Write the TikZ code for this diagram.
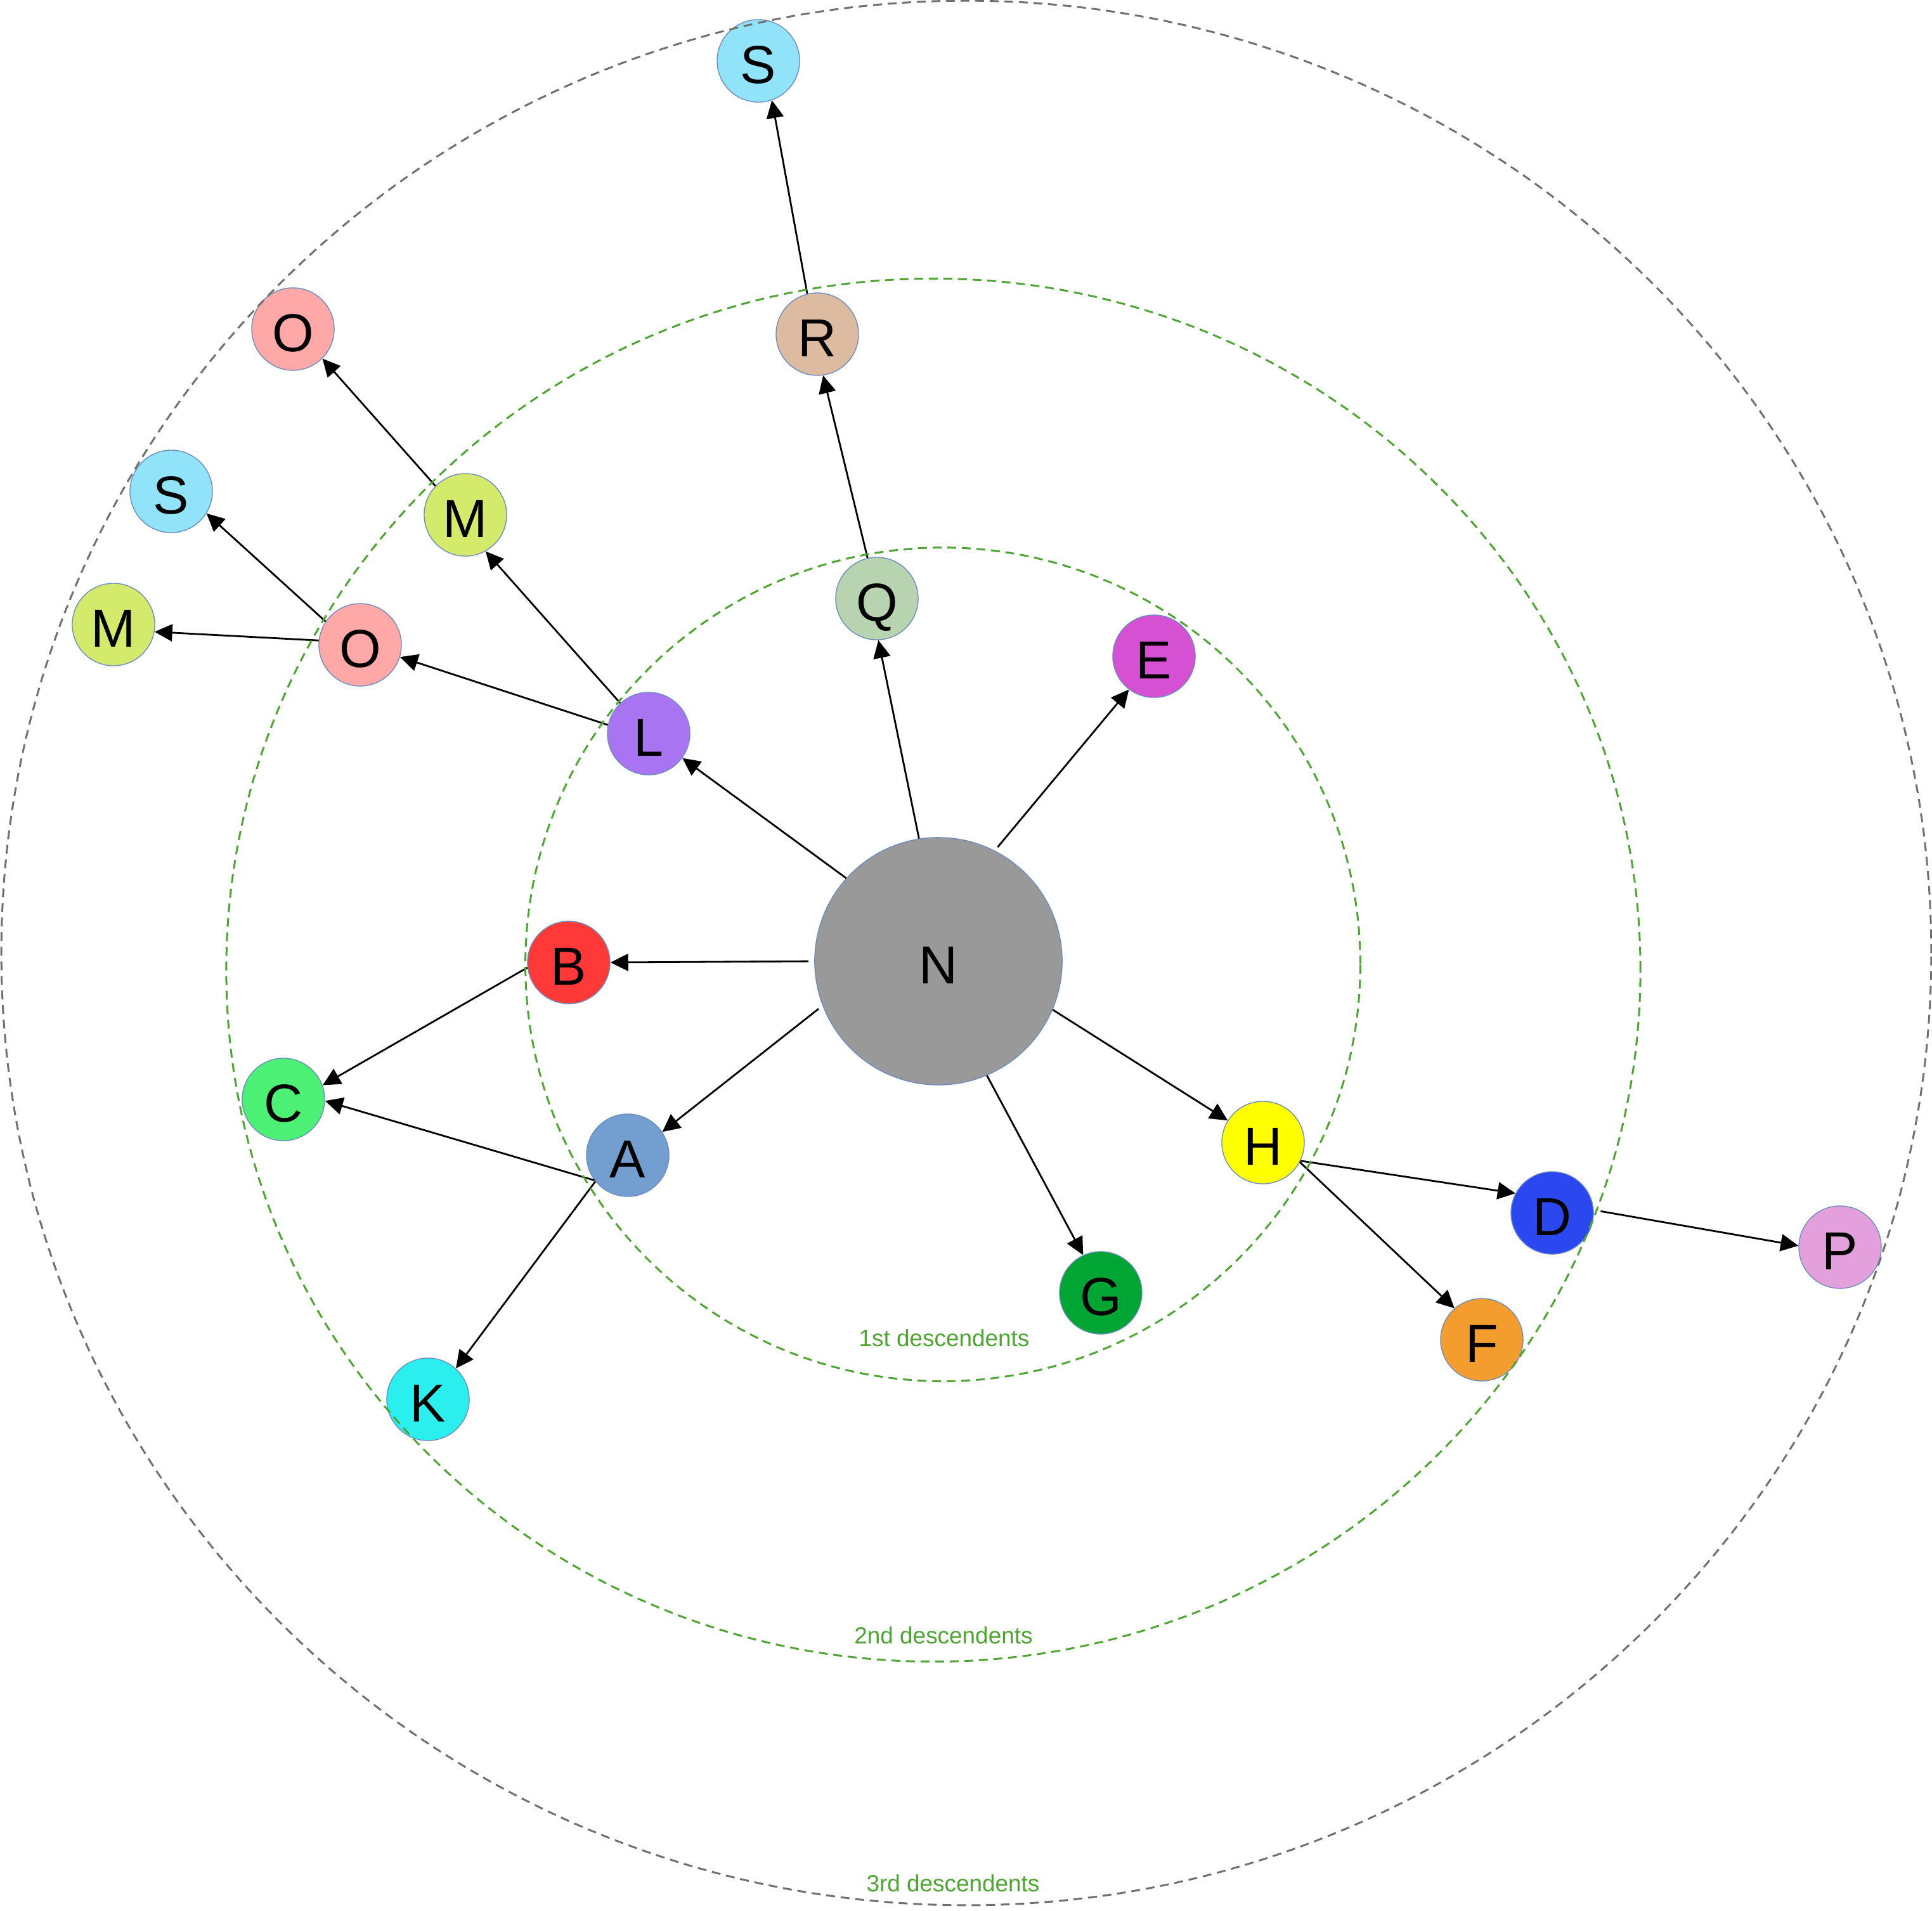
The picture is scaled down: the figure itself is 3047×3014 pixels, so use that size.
\documentclass[tikz,border=0pt]{standalone}
\usepackage{fontspec}
\setmainfont{Liberation Sans}
\usetikzlibrary{arrows.meta}
\definecolor{nodeborder}{RGB}{108,142,191}
\definecolor{cN}{RGB}{153,153,153}
\definecolor{cS}{RGB}{145,227,249}
\definecolor{cR}{RGB}{221,187,160}
\definecolor{cO}{RGB}{255,168,168}
\definecolor{cM}{RGB}{212,234,107}
\definecolor{cL}{RGB}{169,116,242}
\definecolor{cQ}{RGB}{183,211,176}
\definecolor{cE}{RGB}{213,80,210}
\definecolor{cB}{RGB}{255,56,56}
\definecolor{cC}{RGB}{76,240,117}
\definecolor{cA}{RGB}{114,159,207}
\definecolor{cK}{RGB}{43,238,238}
\definecolor{cG}{RGB}{0,165,51}
\definecolor{cH}{RGB}{255,255,0}
\definecolor{cD}{RGB}{43,72,240}
\definecolor{cF}{RGB}{242,157,46}
\definecolor{cP}{RGB}{227,160,220}
\definecolor{ringgreen}{RGB}{78,166,50}
\definecolor{ringgray}{RGB}{112,112,112}
\begin{document}
\begin{tikzpicture}[x=0.01cm,y=-0.01cm,
  vtx/.style={circle, draw=nodeborder, line width=0.4pt, minimum size=1.3cm, inner sep=0pt,
    font=\fontsize{24}{24}\selectfont, text height=0.7cm, text depth=0cm},
  bigvtx/.style={vtx, minimum size=3.9cm},
  arr/.style={-{Triangle[length=0.28cm,width=0.27cm]}, line width=0.8pt, black},
  greenring/.style={draw=ringgreen, line width=0.85pt, dash pattern=on 0.14cm off 0.09cm},
  grayring/.style={draw=ringgray, line width=0.85pt, dash pattern=on 0.14cm off 0.09cm},
  lbl/.style={text=ringgreen, font=\fontsize{10.5}{12}\selectfont, anchor=base, inner sep=0pt}]
\useasboundingbox (0,0) rectangle (3047,3014);
\fill[white] (0,0) rectangle (3047,3014);

% nodes
\node[bigvtx, fill=cN] (N) at (1480,1516) {N};
\node[vtx, fill=cS] (S1) at (1196,96) {S};
\node[vtx, fill=cR] (R) at (1289,527) {R};
\node[vtx, fill=cO] (O1) at (462,519) {O};
\node[vtx, fill=cS] (S2) at (270,775) {S};
\node[vtx, fill=cM] (M1) at (734,812) {M};
\node[vtx, fill=cM] (M2) at (179,985) {M};
\node[vtx, fill=cO] (O2) at (568,1017) {O};
\node[vtx, fill=cL] (L) at (1023,1157) {L};
\node[vtx, fill=cQ] (Q) at (1383,944) {Q};
\node[vtx, fill=cE] (E) at (1820,1035) {E};
\node[vtx, fill=cB] (B) at (897,1518) {B};
\node[vtx, fill=cC] (C) at (447,1734) {C};
\node[vtx, fill=cA] (A) at (990,1822) {A};
\node[vtx, fill=cK] (K) at (675,2207) {K};
\node[vtx, fill=cG] (G) at (1736,2039) {G};
\node[vtx, fill=cH] (H) at (1992,1802) {H};
\node[vtx, fill=cD] (D) at (2448,1913) {D};
\node[vtx, fill=cF] (F) at (2337,2113) {F};
\node[vtx, fill=cP] (P) at (2902,1967) {P};

% edges
\draw[arr, shorten <=0.09cm] (N.180) -- (B.0);
\draw[arr, shorten <=0.08cm] (N.201) -- (A.34);
\draw[arr] (N.138) -- (L.324);
\draw[arr] (N.99) -- (Q.272);
\draw[arr, shorten <=0.07cm] (N.63) -- (E.233);
\draw[arr] (N.337) -- (H.148);
\draw[arr] (N.293) -- (G.115);
\draw[arr] (B.187) -- (C.20);
\draw[arr] (A.217) -- (C.358);
\draw[arr] (A.219) -- (K.48);
\draw[arr] (L.168) -- (O2.343);
\draw[arr] (L.133) -- (M1.299);
\draw[arr] (M1.136) -- (O1.315);
\draw[arr] (O2.146) -- (S2.328);
\draw[arr] (O2.174) -- (M2.350);
\draw[arr] (Q.103) -- (R.278);
\draw[arr] (R.104) -- (S1.289);
\draw[arr] (H.334) -- (D.152);
\draw[arr] (H.332) -- (F.131);
\draw[arr, shorten <=0.11cm] (D.4) -- (P.178);

% rings
\draw[greenring] (1487,1521) ellipse [x radius=6.58cm, y radius=6.57cm];
\draw[greenring] (1472,1530) ellipse [x radius=11.145cm, y radius=10.9cm];
\draw[grayring] (1524,1503) ellipse [x radius=15.21cm, y radius=15.01cm];

% labels
\node[lbl] (l1) at (1489,2123) {1st descendents};
\node[lbl] (l2) at (1488,2592) {2nd descendents};
\node[lbl] (l3) at (1503,2983) {3rd descendents};
\end{tikzpicture}
\end{document}
